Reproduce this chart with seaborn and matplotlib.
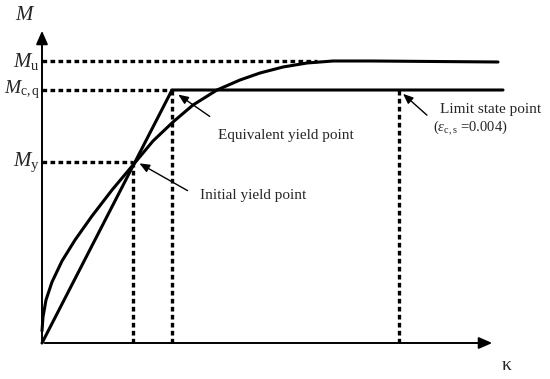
import numpy as np
import pandas as pd
import matplotlib
matplotlib.use("Agg")
import matplotlib.pyplot as plt
import seaborn as sns

# moment-curvature curve (kappa, M)
kappa_curve = [0, 1, 4, 10, 20, 33, 50, 70, 91, 111, 131, 151, 175, 198, 218, 241, 265, 291, 330, 456]
m_curve = [12, 26, 43, 61, 82, 103, 127, 153, 178, 202, 221, 238, 253, 263, 270, 276, 280, 282, 282, 281]

# bilinear idealisation
kappa_bilin = [0, 130, 461]
m_bilin = [0, 253, 253]

# key levels
M_y, M_cq, M_u = 181, 253, 282
kappa_y, kappa_eq, kappa_lim = 91, 130, 357
kappa_max, m_max = 453, 315

curve = pd.DataFrame({"kappa": kappa_curve, "M": m_curve})
bilin = pd.DataFrame({"kappa": kappa_bilin, "M": m_bilin})

sns.set_style("white")
plt.rcParams["font.family"] = ["Liberation Serif", "DejaVu Serif"]
plt.rcParams["mathtext.fontset"] = "custom"
plt.rcParams["mathtext.it"] = "Liberation Serif:italic"
plt.rcParams["mathtext.rm"] = "Liberation Serif"

fig = plt.figure(figsize=(5.5, 3.79), dpi=100)
ax = fig.add_axes([0, 0, 1, 1])
ax.set_xlim(-42, 508)
ax.set_ylim(-36, 343)
ax.axis("off")

sns.lineplot(data=curve, x="kappa", y="M", color="black", lw=2.2, ax=ax, sort=False)
sns.lineplot(data=bilin, x="kappa", y="M", color="black", lw=2.2, ax=ax, sort=False)

# dashed guide lines
dash = dict(color="black", lw=2.4, ls=(0, (1.4, 1.0)))
ax.plot([0, 275], [M_u, M_u], **dash)
ax.plot([0, kappa_eq], [M_cq, M_cq], **dash)
ax.plot([0, kappa_y], [M_y, M_y], **dash)
ax.plot([kappa_y, kappa_y], [0, M_y], **dash)
ax.plot([kappa_eq, kappa_eq], [0, M_cq], **dash)
ax.plot([kappa_lim, kappa_lim], [0, M_cq], **dash)

# axes with arrows
ax.annotate("", xy=(kappa_max, 0), xytext=(0, 0),
            arrowprops=dict(arrowstyle="-|>,head_length=0.8,head_width=0.35", color="black", lw=1.4))
ax.annotate("", xy=(0, m_max), xytext=(0, 0),
            arrowprops=dict(arrowstyle="-|>,head_length=0.8,head_width=0.35", color="black", lw=1.4))

ax.text(-17, 328, r"$M$", fontsize=15, ha="center", va="center")
ax.text(465, -22, "κ", fontsize=14, ha="center", va="center")
ax.text(-2, M_u, r"$M_{\mathrm{u}}$", fontsize=15, ha="right", va="center")
ax.text(-2, M_cq, r"$M_{\mathrm{c,q}}$", fontsize=14, ha="right", va="center")
ax.text(-2, M_y, r"$M_{\mathrm{y}}$", fontsize=15, ha="right", va="center")

arrow = dict(arrowstyle="-|>,head_length=0.6,head_width=0.25", color="black", lw=1.0)
ax.annotate("", xy=(134, 250), xytext=(170, 225), arrowprops=arrow)
ax.text(176, 208, "Equivalent yield point", fontsize=11, ha="left", va="center")
ax.annotate("", xy=(95, 181), xytext=(148, 151), arrowprops=arrow)
ax.text(158, 148, "Initial yield point", fontsize=11, ha="left", va="center")
ax.annotate("", xy=(359, 251), xytext=(387, 226), arrowprops=arrow)
ax.text(398, 233, "Limit state point", fontsize=11, ha="left", va="center")
ax.text(391, 215, r"($\varepsilon_{\mathrm{c,s}}$ =0.004)", fontsize=10.5, ha="left", va="center")

fig.savefig("out.png", dpi=100)
